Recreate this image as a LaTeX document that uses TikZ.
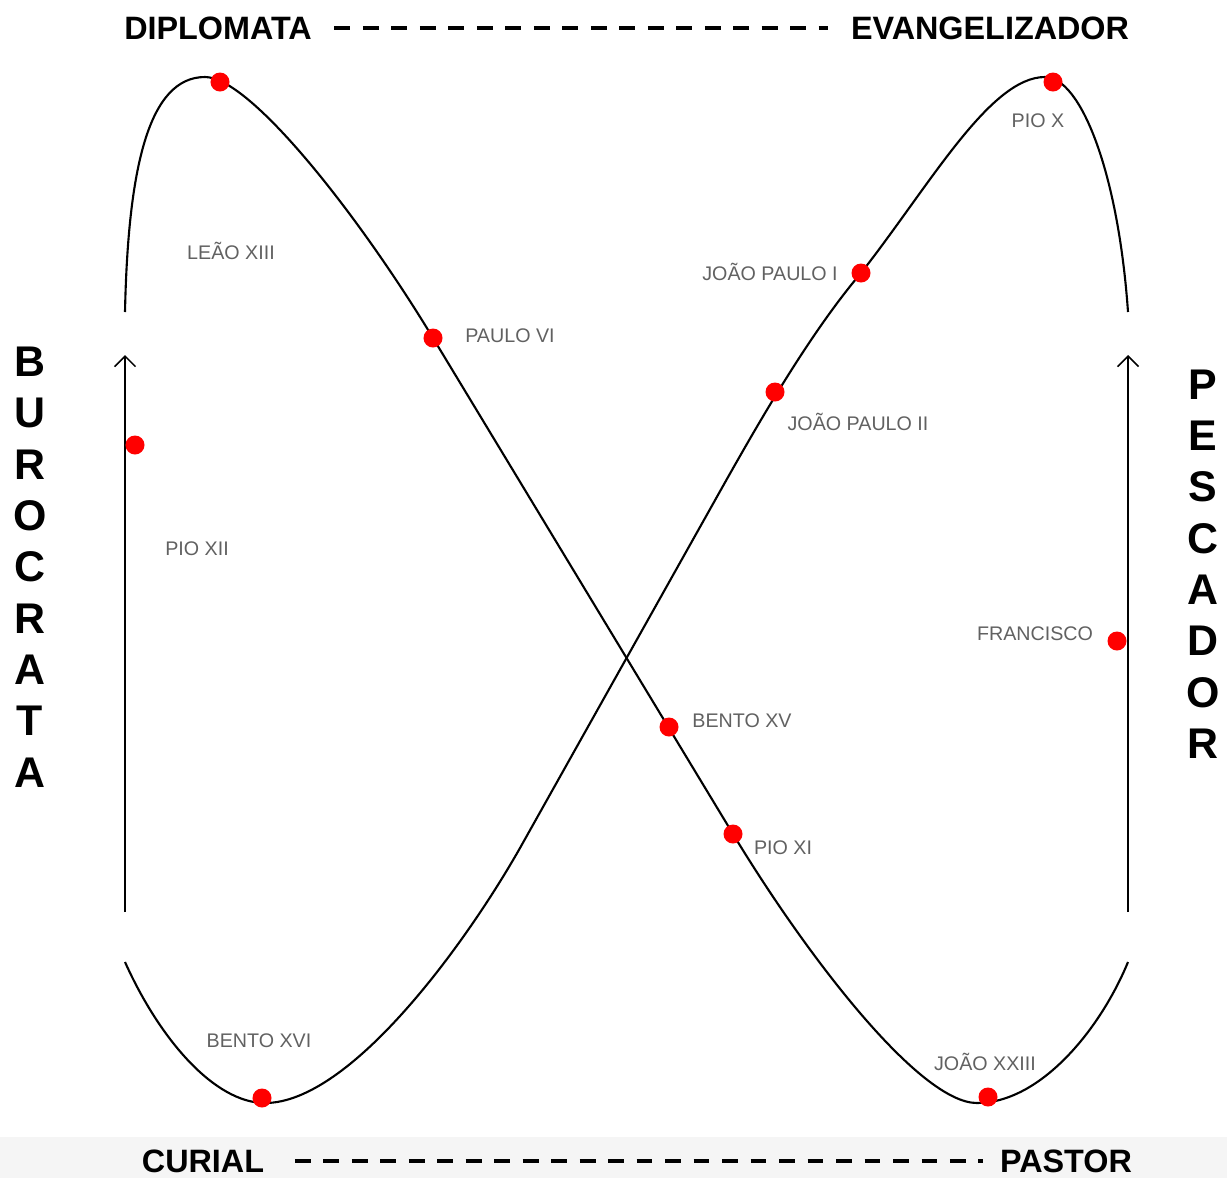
\documentclass[tikz,border=0pt]{standalone}
\usepackage{fontspec}
\setmainfont{Liberation Sans}
\usepackage{tikz}
\usetikzlibrary{arrows.meta}

\begin{document}
\begin{tikzpicture}[x=0.01cm,y=-0.01cm,
	papa/.style={circle,fill=red,inner sep=0pt,minimum size=0.19cm},
	nome/.style={text=black!62,font=\fontsize{5.6}{6}\selectfont,inner sep=0pt},
	polo/.style={font=\fontsize{9.2}{10}\bfseries,inner sep=0pt},
	eixo/.style={font=\fontsize{12.2}{14.6}\bfseries,align=center,inner sep=0pt},
	tracejado/.style={line width=1pt,dash pattern=on 4.5pt off 3.6pt}]
			\useasboundingbox (0,0) rectangle (1227,1178);
			\fill[black!4] (0,1137) rectangle (1227,1178);
			% titulos
			\node[polo] (diplomata) at (218,28) {DIPLOMATA};
			\node[polo] (evangelizador) at (990,28) {EVANGELIZADOR};
			\node[polo] (curial) at (203,1161) {CURIAL};
			\node[polo] (pastor) at (1066,1161) {PASTOR};
			\draw[tracejado] ([xshift=0.22cm]diplomata.east) -- ([xshift=-0.22cm]evangelizador.west);
			\draw[tracejado] ([xshift=0.3cm]curial.east) -- ([xshift=-0.16cm]pastor.west);
			\node[eixo] (burocrata) at (30,567) {B\\U\\R\\O\\C\\R\\A\\T\\A};
			\node[eixo] (pescador) at (1203,564) {P\\E\\S\\C\\A\\D\\O\\R};
			% setas
			\coordinate (b0) at (125,912); \coordinate (b1) at (125,355);
			\coordinate (p0) at (1128,912); \coordinate (p1) at (1128,355);
			\draw[line width=0.45pt,-{Straight Barb[length=3pt,width=6pt]}] (b0) -- (b1);
			\draw[line width=0.45pt,-{Straight Barb[length=3pt,width=6pt]}] (p0) -- (p1);
			% curvas
			\draw[line width=0.6pt] (125,312) .. controls (128,170) and (148,77) .. (205,77)
				.. controls (250,77) and (358,214) .. (433,338) -- (733,834)
				.. controls (808,958) and (920,1103) .. (977,1103)
				.. controls (1040,1103) and (1100,1030) .. (1128,962);
			\draw[line width=0.6pt] (125,962) .. controls (160,1040) and (215,1103) .. (265,1103)
				.. controls (350,1103) and (465,945) .. (520,848) -- (700,527)
				.. controls (740,456) and (800,345) .. (861,273)
				.. controls (930,185) and (990,77) .. (1045,77)
				.. controls (1080,77) and (1118,170) .. (1128,312);
			% papas
			\node[papa] (leao13) at (220,82) {};
			\node[papa] (paulo6) at (433,338) {};
			\node[papa] (jp1) at (861,273) {};
			\node[papa] (jp2) at (775,392) {};
			\node[papa] (pio10) at (1053,82) {};
			\node[papa] (pio12) at (135,445) {};
			\node[papa] (francisco) at (1117,641) {};
			\node[papa] (bento15) at (669,727) {};
			\node[papa] (pio11) at (733,834) {};
			\node[papa] (bento16) at (262,1098) {};
			\node[papa] (joao23) at (988,1097) {};
			\node[nome] (tleao13) at (231,251) {LEÃO XIII};
			\node[nome] (tpaulo6) at (510,336) {PAULO VI};
			\node[nome] (tjp1) at (770,272) {JOÃO PAULO I};
			\node[nome] (tjp2) at (858,422) {JOÃO PAULO II};
			\node[nome] (tpio10) at (1038,121) {PIO X};
			\node[nome] (tpio12) at (197,549) {PIO XII};
			\node[nome] (tfrancisco) at (1035,634) {FRANCISCO};
			\node[nome] (tbento15) at (742,721) {BENTO XV};
			\node[nome] (tpio11) at (783,848) {PIO XI};
			\node[nome] (tbento16) at (259,1041) {BENTO XVI};
			\node[nome] (tjoao23) at (985,1062) {JOÃO XXIII};
		\end{tikzpicture}
\end{document}
